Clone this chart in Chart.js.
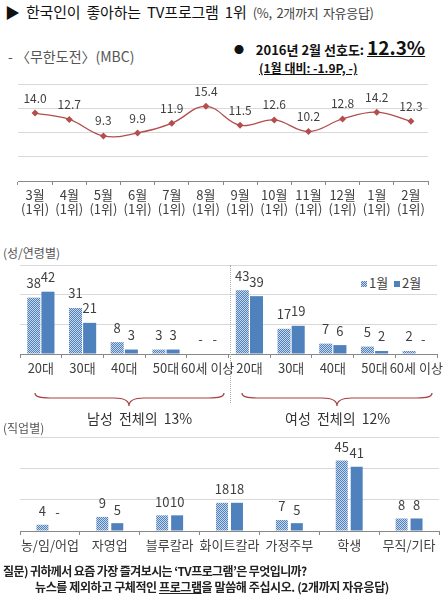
<!DOCTYPE html>
<html>
<head>
<meta charset="utf-8">
<script src="https://cdn.jsdelivr.net/npm/chart.js@4/dist/chart.umd.min.js"></script>
<style>
  body{margin:0;width:446px;height:604px;position:relative;background:#fff;overflow:hidden;
       font-family:'Noto Sans CJK KR','Noto Sans',sans-serif;}
  .t{position:absolute;white-space:nowrap;line-height:16px;}
  canvas{position:absolute;left:0;}
  .sw{display:inline-block;width:6px;height:6px;margin-right:2px;vertical-align:1px;}
</style>
</head>
<body>
<div class="t" style="left:5px;top:4px;font-size:15px;color:#111;word-spacing:3px;letter-spacing:-0.2px">▶ 한국인이 좋아하는 TV프로그램 1위 <span style="font-size:13px;color:#444;word-spacing:2px;letter-spacing:-0.3px">(%, 2개까지 자유응답)</span></div>
<div class="t" style="left:8px;top:48px;font-size:14px;color:#555">- 〈무한도전〉(MBC)</div>
<div class="t" style="left:234px;top:38px;font-size:13px;color:#111;font-weight:bold;line-height:18px"><span style="font-size:10px;vertical-align:1px">●</span>&nbsp;&nbsp;&nbsp; 2016년 2월 선호도: <span style="font-size:19px;text-decoration:underline">12.3%</span></div>
<div class="t" style="left:259px;top:60px;font-size:12px;color:#111;font-weight:bold;text-decoration:underline">(1월 대비: -1.9P, -)</div>

<canvas id="trend" width="446" height="150" style="top:74px"></canvas>

<div class="t" style="left:3px;top:245px;font-size:12px;color:#555">(성/연령별)</div>
<div class="t" style="left:361px;top:275px;font-size:13px;color:#404040"><span class="sw" style="background:repeating-conic-gradient(#4f81bd 0 25%,#c9d7ea 0 50%) 0 0/2px 2px"></span>1월&nbsp; <span class="sw" style="background:#4f81bd"></span>2월</div>
<canvas id="age" width="446" height="125" style="top:255px"></canvas>
<div style="position:absolute;left:230px;top:265px;height:138px;border-left:1px dotted #aaa"></div>
<svg style="position:absolute;left:0;top:385px" width="446" height="25">
  <path d="M35,8 C35,12 40,13 50,13 L114,13 C124,13 129,15 129,21 C129,15 134,13 144,13 L209,13 C219,13 224,12 224,8" fill="none" stroke="#a5403f" stroke-width="1.2"/>
  <path d="M242,8 C242,12 247,13 257,13 L322,13 C332,13 337,15 337,21 C337,15 342,13 352,13 L417,13 C427,13 432,12 432,8" fill="none" stroke="#a5403f" stroke-width="1.2"/>
</svg>
<div class="t" style="left:87px;top:410px;font-size:14px;color:#333;word-spacing:3px">남성 전체의 13%</div>
<div class="t" style="left:285px;top:410px;font-size:14px;color:#333;word-spacing:3px">여성 전체의 12%</div>

<div class="t" style="left:3px;top:420px;font-size:12px;color:#555">(직업별)</div>
<canvas id="job" width="446" height="128" style="top:428px"></canvas>

<div class="t" style="left:3px;top:563px;font-size:12px;color:#222;font-weight:bold;letter-spacing:-0.6px">질문) 귀하께서 요즘 가장 즐겨보시는 ‘TV프로그램’은 무엇입니까?</div>
<div class="t" style="left:35px;top:579px;font-size:12px;color:#222;font-weight:bold;letter-spacing:-0.4px">뉴스를 제외하고 구체적인 <u>프로그램</u>을 말씀해 주십시오. (2개까지 자유응답)</div>

<script>
// 무한도전 선호도 (%)
var months = ['3월','4월','5월','6월','7월','8월','9월','10월','11월','12월','1월','2월'];
var rankText = '(1위)';
var muhanValues = [14.0,12.7,9.3,9.9,11.9,15.4,11.5,12.6,10.2,12.8,14.2,12.3];

// 성/연령별 (남 5 + 여 5)
var ageGroups = ['20대','30대','40대','50대','60세 이상','20대','30대','40대','50대','60세 이상'];
var ageJan = [38,31,8,3,null,43,17,7,5,2];
var ageFeb = [42,21,3,3,null,39,19,6,2,null];

// 직업별
var jobs = ['농/임/어업','자영업','블루칼라','화이트칼라','가정주부','학생','무직/기타'];
var jobJan = [4,9,10,18,7,45,8];
var jobFeb = [null,5,10,18,5,41,8];

Chart.defaults.font.family = "'Noto Sans CJK KR','Noto Sans',sans-serif";
Chart.defaults.animation = false;

var BLUE = '#4f81bd';
function dotPattern(){
    var c = document.createElement('canvas');
    c.width = 2; c.height = 2;
    var x = c.getContext('2d');
    x.fillStyle = '#c9d7ea'; x.fillRect(0,0,2,2);
    x.fillStyle = BLUE; x.fillRect(0,0,1,1); x.fillRect(1,1,1,1);
    return x.createPattern(c,'repeat');
}

// 값 라벨
var valueLabels = {
    id: 'valueLabels',
    afterDatasetsDraw: function(chart, args, opts){
        var ctx = chart.ctx, y0 = chart.scales.y.getPixelForValue(0);
        ctx.save();
        ctx.font = opts.size + "px 'Noto Sans CJK KR','Noto Sans',sans-serif";
        ctx.fillStyle = '#404040';
        ctx.textAlign = 'center';
        ctx.textBaseline = 'bottom';
        chart.data.datasets.forEach(function(ds, i){
            chart.getDatasetMeta(i).data.forEach(function(el, j){
                var v = ds.data[j];
                if (v == null) ctx.fillText('-', el.x, y0 - opts.dashGap);
                else ctx.fillText(v.toFixed(opts.decimals), el.x, el.y - opts.gap);
            });
        });
        ctx.restore();
    }
};

function xAxis(h, size){
    return {
        offset: true,
        grid: {offset: true, drawOnChartArea: false, color: '#888', tickLength: 4},
        border: {color: '#888'},
        ticks: {color: '#404040', font: {size: size, lineHeight: 1.1}, padding: 3, autoSkip: false, maxRotation: 0},
        afterFit: function(s){ s.height = h; }
    };
}
function yAxis(max, step){
    return {
        min: 0, max: max,
        ticks: {display: false, stepSize: step},
        grid: {color: '#d9d9d9', drawTicks: false},
        border: {display: false},
        afterFit: function(s){ s.width = 0; }
    };
}

new Chart(document.getElementById('trend').getContext('2d'), {
    type: 'line',
    data: {
        labels: months.map(function(m){ return [m, rankText]; }),
        datasets: [{
            data: muhanValues,
            borderColor: '#b34e4e',
            borderWidth: 1.3,
            tension: 0.4,
            pointStyle: 'rectRot',
            pointRadius: 3.5,
            pointBackgroundColor: '#b34e4e',
            pointBorderWidth: 0
        }]
    },
    options: {
        responsive: false,
        layout: {padding: {left: 18, right: 18, top: 10, bottom: 0}},
        scales: {x: xAxis(43, 13), y: yAxis(20, 5)},
        plugins: {legend: {display: false}, tooltip: {enabled: false},
                  valueLabels: {size: 12, gap: 9, dashGap: 10, decimals: 1}}
    },
    plugins: [valueLabels]
});

new Chart(document.getElementById('age').getContext('2d'), {
    type: 'bar',
    data: {
        labels: ageGroups,
        datasets: [
            {label: '1월', data: ageJan, backgroundColor: dotPattern()},
            {label: '2월', data: ageFeb, backgroundColor: BLUE}
        ]
    },
    options: {
        responsive: false,
        categoryPercentage: 0.68,
        barPercentage: 0.92,
        layout: {padding: {left: 20, right: 3, top: 10, bottom: 0}},
        scales: {x: xAxis(26, 13), y: yAxis(60, 20)},
        plugins: {legend: {display: false}, tooltip: {enabled: false},
                  valueLabels: {size: 13, gap: 8, dashGap: 8, decimals: 0}}
    },
    plugins: [valueLabels]
});

new Chart(document.getElementById('job').getContext('2d'), {
    type: 'bar',
    data: {
        labels: jobs,
        datasets: [
            {label: '1월', data: jobJan, backgroundColor: dotPattern()},
            {label: '2월', data: jobFeb, backgroundColor: BLUE}
        ]
    },
    options: {
        responsive: false,
        categoryPercentage: 0.5,
        barPercentage: 0.8,
        layout: {padding: {left: 20, right: 7, top: 9, bottom: 0}},
        scales: {x: xAxis(25, 13), y: yAxis(60, 20)},
        plugins: {legend: {display: false}, tooltip: {enabled: false},
                  valueLabels: {size: 13, gap: 7, dashGap: 12, decimals: 0}}
    },
    plugins: [valueLabels]
});
</script>
</body>
</html>
